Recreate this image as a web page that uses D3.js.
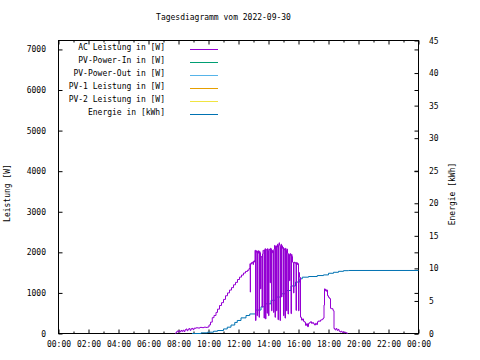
<!DOCTYPE html>
<html>
<head>
<meta charset="utf-8">
<script src="https://cdn.jsdelivr.net/npm/d3@7"></script>
<style>
  html, body { margin: 0; padding: 0; background: #fff; }
  svg { display: block; }
  text { font-family: "DejaVu Sans Mono", "Liberation Mono", monospace; font-size: 8px; fill: #000; }
</style>
</head>
<body>
<svg id="chart" width="480" height="360"></svg>
<script>
// ---------- data ----------
const titleText = "Tagesdiagramm vom 2022-09-30";
const xTickLabels = ["00:00","02:00","04:00","06:00","08:00","10:00","12:00","14:00","16:00","18:00","20:00","22:00","00:00"];
const powerTicks = [0,1000,2000,3000,4000,5000,6000,7000];
const energyTicks = [0,5,10,15,20,25,30,35,40,45];
const seriesNames = ["AC Leistung in [W]","PV-Power-In in [W]","PV-Power-Out in [W]","PV-1 Leistung in [W]","PV-2 Leistung in [W]","Energie in [kWh]"];
const seriesColors = ["#9400d3","#009e73","#56b4e9","#e69f00","#f0e442","#0072b2"];

const acTime = ["07:48","07:50","07:54","07:58","08:02","08:06","08:10","08:14","08:18","08:22","08:26","08:30","08:34","08:38","08:42","08:46","08:50","08:54","08:58","09:02","09:10","09:18","09:26","09:34","09:42","09:50","09:56","10:02","10:08","10:15","10:22","10:30","10:36","10:44","10:52","11:00","11:08","11:16","11:24","11:32","11:40","11:48","11:56","12:04","12:12","12:20","12:28","12:36","12:42","12:46","12:47",
"12:48","12:50","12:52","12:54","12:56","12:58","13:00","13:02","13:04","13:06","13:08","13:10","13:12","13:14","13:16","13:18","13:20","13:22","13:24","13:26","13:28","13:30","13:32","13:34","13:36","13:38","13:40","13:42","13:44","13:46","13:48","13:50","13:52","13:54","13:56","13:58",
"14:00","14:02","14:04","14:06","14:08","14:10","14:12","14:14","14:16","14:18","14:20","14:22","14:24","14:26","14:28","14:30","14:32","14:34","14:36","14:38","14:40","14:42","14:44","14:46","14:48","14:50","14:52","14:54","14:56","14:58",
"15:00","15:02","15:04","15:06","15:08","15:10","15:12","15:14","15:16","15:18","15:20","15:22","15:24","15:26","15:28","15:30","15:32","15:34","15:36","15:38","15:40","15:42","15:44","15:46","15:48","15:50","15:52","15:54","15:56","15:58",
"16:00","16:02","16:04","16:06","16:08","16:12","16:16","16:20","16:24","16:28","16:32","16:36","16:40","16:44","16:48","16:52","16:56","17:00","17:04","17:08","17:12","17:16","17:20","17:24","17:28","17:32","17:36","17:40","17:42","17:44","17:46","17:48","17:50","17:52","17:56","18:00","18:04","18:08","18:12","18:18","18:20","18:22","18:26","18:30","18:34","18:38","18:42","18:46","18:50","18:54","18:58","19:02","19:06","19:10","19:14","19:16"];
const acPower = [0,30,60,40,70,45,75,55,80,50,90,110,70,105,120,80,115,125,95,130,140,135,150,145,155,150,160,210,280,390,445,520,600,690,760,840,930,1000,1070,1130,1200,1260,1330,1390,1440,1490,1530,1560,1600,1720,1020,
1700,1740,1720,1760,1750,1700,1780,1760,1800,2050,320,2040,2000,440,2030,1980,2040,400,2020,1990,1100,1880,1900,650,1960,2050,2040,380,2060,2090,360,2060,2070,500,2090,2040,
440,2080,2060,1250,2100,2080,560,2050,1990,2040,520,2080,2170,400,2150,2160,560,2130,2200,340,2170,2235,2180,320,2150,2200,900,2160,2100,2120,
440,2090,2060,380,2100,2050,560,2080,1980,480,1960,1940,1300,1970,1920,490,1950,1900,1760,1750,1000,1760,1740,1750,1720,570,1750,1740,1700,1720,
560,1500,1390,1380,400,330,360,300,280,200,240,170,250,270,290,250,270,240,210,250,220,290,310,300,330,340,360,380,700,1100,1060,1090,1040,1070,930,890,860,620,610,570,560,120,90,120,80,100,60,40,55,30,40,20,30,15,10,0];

const energyTime = ["08:54","09:30","09:56","10:20","10:36","11:00","11:15","11:30","11:45","11:55","12:10","12:30","12:45","13:08","13:30","13:48","14:10","14:28","14:50","15:08","15:30","15:48","16:05","16:15","16:40","17:15","17:40","18:00","18:20","18:40","19:00","19:20","24:00"];
const energyKWh = [0,0.1,0.2,0.35,0.46,0.7,0.97,1.3,1.7,2.0,2.4,2.76,3.0,3.6,4.1,4.56,5.1,5.6,6.1,6.6,7.3,7.9,8.4,8.65,8.75,8.9,9.0,9.25,9.4,9.55,9.65,9.68,9.68];

// ---------- layout ----------
const L = 58.5, R = 418.5, T = 40.5, B = 333.5;
const toMin = s => { const [h, m] = s.split(":").map(Number); return h * 60 + m; };

const svg = d3.select("#chart");
const x = d3.scaleLinear().domain([0, 1440]).range([L, R]);
const yP = d3.scaleLinear().domain([0, 7220]).range([B, T]);
const yE = d3.scaleLinear().domain([0, 45]).range([B, T]);

// title
svg.append("text").attr("x", 223.5).attr("y", 20).attr("text-anchor", "middle").text(titleText);

// frame
svg.append("rect").attr("x", L).attr("y", T).attr("width", R - L).attr("height", B - T)
  .attr("fill", "none").attr("stroke", "#000").attr("stroke-width", 1);

const majorX = d3.range(0, 1441, 120);
const minorX = d3.range(60, 1440, 120);

// bottom axis
svg.append("g").attr("transform", `translate(0,${B})`)
  .call(d3.axisBottom(x).tickValues(majorX).tickSize(-4).tickPadding(8)
    .tickFormat((d, i) => xTickLabels[i]));
svg.append("g").attr("transform", `translate(0,${B})`)
  .call(d3.axisBottom(x).tickValues(minorX).tickSize(-2).tickFormat(""));
// top mirrored
svg.append("g").attr("transform", `translate(0,${T})`)
  .call(d3.axisTop(x).tickValues(majorX).tickSize(-4).tickFormat(""));
svg.append("g").attr("transform", `translate(0,${T})`)
  .call(d3.axisTop(x).tickValues(minorX).tickSize(-2).tickFormat(""));

// left axis
svg.append("g").attr("transform", `translate(${L},0)`)
  .call(d3.axisLeft(yP).tickValues(powerTicks).tickSize(-4).tickPadding(12.5).tickFormat(d3.format("d")));
// mirrored on right
svg.append("g").attr("transform", `translate(${R},0)`)
  .call(d3.axisRight(yP).tickValues(powerTicks).tickSize(-4).tickFormat(""));
// right energy axis
svg.append("g").attr("transform", `translate(${R},0)`)
  .call(d3.axisRight(yE).tickValues(energyTicks).tickSize(-4).tickPadding(10.5).tickFormat(d3.format("d")));

svg.selectAll(".domain").remove();
svg.selectAll(".tick line").attr("stroke", "#000");
svg.selectAll(".tick text").style("font-family", '"DejaVu Sans Mono", monospace').style("font-size", "8px").attr("fill", "#000");

// axis titles
svg.append("text").attr("transform", "translate(10,193) rotate(-90)").attr("text-anchor", "middle").text("Leistung [W]");
svg.append("text").attr("transform", "translate(455,194) rotate(-90)").attr("text-anchor", "middle").text("Energie [kWh]");

// data lines
const acData = acTime.map((t, i) => ({ t: toMin(t), v: acPower[i] }));
const enData = energyTime.map((t, i) => ({ t: toMin(t), v: energyKWh[i] }));

svg.append("path").datum(enData)
  .attr("fill", "none").attr("stroke", seriesColors[5]).attr("stroke-width", 1)
  .attr("d", d3.line().x(d => x(d.t)).y(d => yE(d.v)).curve(d3.curveStepAfter));

svg.append("path").datum(acData)
  .attr("fill", "none").attr("stroke", seriesColors[0]).attr("stroke-width", 1)
  .attr("d", d3.line().x(d => x(d.t)).y(d => yP(d.v)).curve(d3.curveStepAfter));

// legend
const leg = svg.append("g");
seriesNames.forEach((name, i) => {
  const yy = 49.5 + i * 13;
  leg.append("text").attr("x", 165).attr("y", yy + 0.5).attr("text-anchor", "end").text(name);
  leg.append("line").attr("x1", 190).attr("x2", 218).attr("y1", yy).attr("y2", yy)
    .attr("stroke", seriesColors[i]).attr("stroke-width", 1);
});
</script>
</body>
</html>
